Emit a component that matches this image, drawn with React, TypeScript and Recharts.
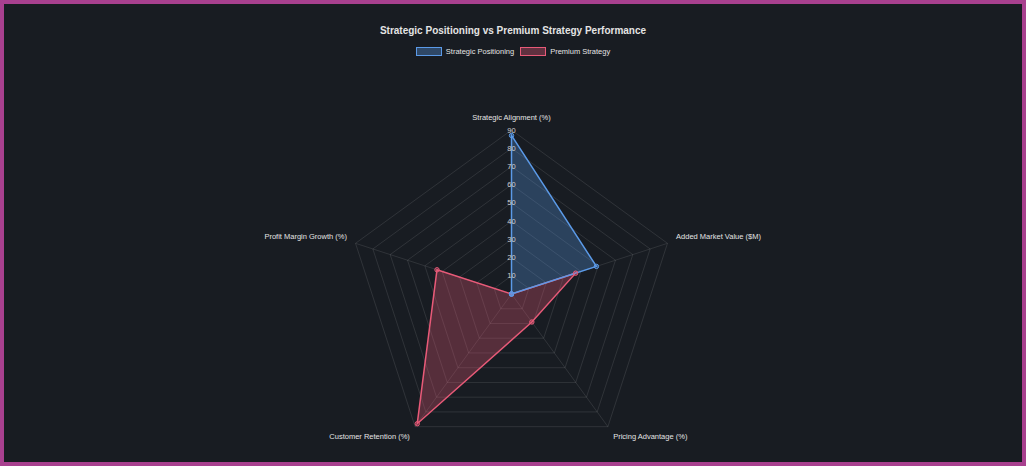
import React from 'react'
import { PolarAngleAxis, PolarGrid, PolarRadiusAxis, Radar, RadarChart } from 'recharts'

const categories = [
  'Strategic Alignment (%)',
  'Added Market Value ($M)',
  'Pricing Advantage (%)',
  'Customer Retention (%)',
  'Profit Margin Growth (%)',
]
const strategicPositioning = [87, 49, 0, 0, 0]
const premiumStrategy = [0, 37, 19, 88, 43]
const radiusTicks = [0, 10, 20, 30, 40, 50, 60, 70, 80, 90]

const seriesNames = ['Strategic Positioning', 'Premium Strategy']

const palette = {
  background: '#181c22',
  frame: '#a8408f',
  grid: 'rgba(255,255,255,0.1)',
  text: '#e4e4e4',
  tick: '#cfcfcf',
  blue: '#5b9ae8',
  red: '#e85a78',
}

const FONT = '"Liberation Sans", Arial, Helvetica, sans-serif'
const W = 1026
const H = 466
const CX = 511.5
const CY = 294
const R = 164

const data = categories.map((name, i) => ({
  name,
  strategic: strategicPositioning[i],
  premium: premiumStrategy[i],
}))

function AngleTick(props: any) {
  const { x, y, payload } = props
  const cx = props.cx ?? CX
  const cy = props.cy ?? CY
  const dx = x - cx
  const dy = y - cy
  const len = Math.sqrt(dx * dx + dy * dy) || 1
  const ux = dx / len
  const uy = dy / len
  const anchor = ux > 0.05 ? 'start' : ux < -0.05 ? 'end' : 'middle'
  const baseline = uy < -0.05 ? 'auto' : uy > 0.05 ? 'hanging' : 'central'
  const shift = uy < -0.05 ? -1.5 : -1
  return (
    <text
      x={x}
      y={y + shift}
      textAnchor={anchor}
      dominantBaseline={baseline}
      fill={palette.text}
      fontSize={7.5}
      fontFamily={FONT}
    >
      {payload.value}
    </text>
  )
}

function RadiusTick(props: any) {
  const { x, y, payload } = props
  if (payload.value === 0) return <g />
  return (
    <text
      x={x}
      y={y}
      textAnchor="middle"
      dominantBaseline="central"
      fill={palette.tick}
      fontSize={7.5}
      fontFamily={FONT}
    >
      {payload.value}
    </text>
  )
}

export default function App() {
  const colors = [palette.blue, palette.red]
  return (
    <div
      style={{
        position: 'fixed',
        left: 0,
        top: 0,
        width: W,
        height: H,
        background: palette.background,
        fontFamily: FONT,
        overflow: 'hidden',
      }}
    >
      <div
        style={{
          position: 'absolute',
          top: 25,
          left: 0,
          width: W,
          textAlign: 'center',
          fontSize: 10,
          fontWeight: 700,
          color: palette.text,
        }}
      >
        Strategic Positioning vs Premium Strategy Performance
      </div>
      <div
        style={{
          position: 'absolute',
          top: 47,
          left: 0,
          width: W,
          display: 'flex',
          justifyContent: 'center',
          gap: 6,
        }}
      >
        {seriesNames.map((s, i) => (
          <div key={s} style={{ display: 'flex', alignItems: 'center', gap: 4 }}>
            <div
              style={{
                width: 24,
                height: 7,
                border: `1.5px solid ${colors[i]}`,
                background: i === 0 ? 'rgba(91,154,232,0.35)' : 'rgba(232,90,120,0.35)',
              }}
            />
            <span style={{ fontSize: 7.5, color: palette.text }}>{s}</span>
          </div>
        ))}
      </div>
      <div style={{ position: 'absolute', left: 0, top: 0 }}>
        <RadarChart
          width={W}
          height={H}
          data={data}
          cx={CX}
          cy={CY}
          outerRadius={R}
          margin={{ top: 0, right: 0, bottom: 0, left: 0 }}
        >
          <PolarGrid gridType="polygon" stroke={palette.grid} strokeWidth={1} />
          <PolarAngleAxis dataKey="name" tick={<AngleTick />} tickLine={false} axisLine={false} tickSize={9} />
          <PolarRadiusAxis
            angle={90}
            domain={[0, 90]}
            ticks={radiusTicks}
            tick={<RadiusTick />}
            axisLine={false}
            tickLine={false}
            orientation="middle"
          />
          <Radar
            name={seriesNames[1]}
            dataKey="premium"
            stroke={palette.red}
            strokeWidth={1.5}
            fill={palette.red}
            fillOpacity={0.3}
            dot={{ r: 2.2, fill: palette.red, stroke: palette.red, strokeWidth: 1 }}
            isAnimationActive={false}
          />
          <Radar
            name={seriesNames[0]}
            dataKey="strategic"
            stroke={palette.blue}
            strokeWidth={1.5}
            fill={palette.blue}
            fillOpacity={0.3}
            dot={{ r: 2.2, fill: palette.blue, stroke: palette.blue, strokeWidth: 1 }}
            isAnimationActive={false}
          />
        </RadarChart>
      </div>
      <div
        style={{
          position: 'absolute',
          inset: 0,
          border: `4px solid ${palette.frame}`,
          pointerEvents: 'none',
        }}
      />
    </div>
  )
}
